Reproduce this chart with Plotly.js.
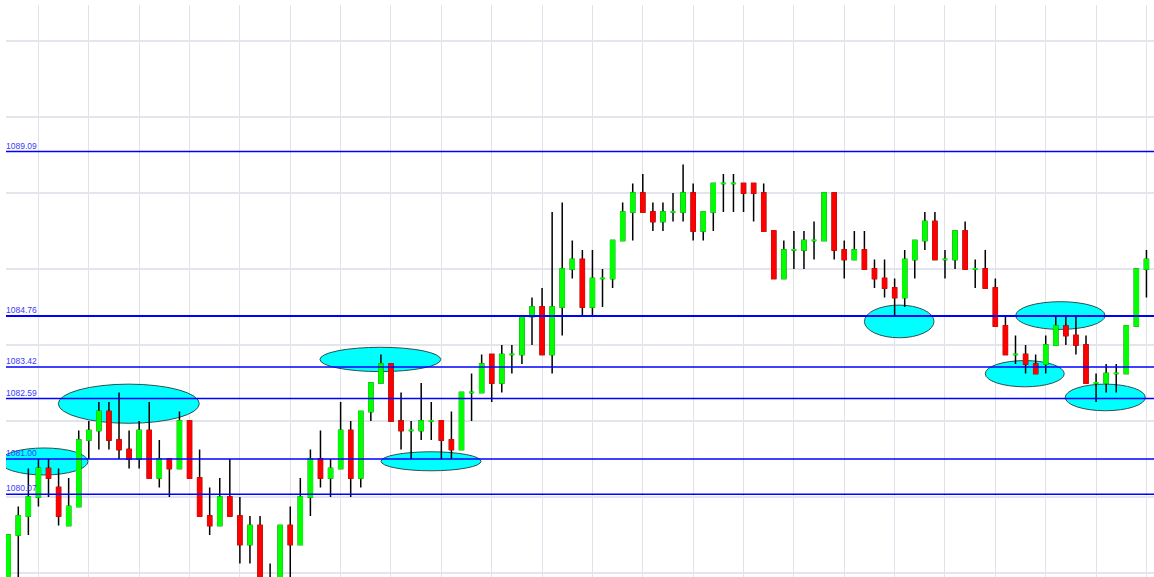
<!DOCTYPE html>
<html>
<head>
<meta charset="utf-8">
<script src="https://cdn.plot.ly/plotly-3.0.1.min.js"></script>
<style>
html, body { margin: 0; padding: 0; background: #ffffff; }
#chart { width: 1154px; height: 577px; }
</style>
</head>
<body>
<div id="chart"></div>
<script>
// ---- Data ----
var opens = [
  1077.5, 1079.0, 1079.5, 1080.0, 1080.75, 1080.25, 1079.25, 1079.75, 1081.5, 1081.75,
  1082.25, 1081.5, 1081.25, 1081.0, 1081.75, 1080.5, 1081.0, 1080.75, 1082.0, 1080.5,
  1079.5, 1079.25, 1080.0, 1079.5, 1078.75, 1079.25, 1077.75, 1077.5, 1079.25, 1078.75,
  1080.0, 1081.0, 1080.5, 1080.75, 1081.75, 1080.5, 1082.25, 1083.0, 1083.5, 1082.0,
  1081.75, 1081.75, 1082.0, 1082.0, 1081.5, 1081.25, 1082.75, 1082.75, 1083.75, 1083.0,
  1083.75, 1083.75, 1084.75, 1085.0, 1083.75, 1085.0, 1086.0, 1086.25, 1085.0, 1085.75,
  1085.75, 1086.75, 1087.5, 1088.0, 1087.5, 1087.25, 1087.5, 1087.5, 1088.0, 1087.0,
  1087.5, 1088.25, 1088.25, 1088.25, 1088.25, 1088.0, 1087.0, 1085.75, 1086.5, 1086.5,
  1086.75, 1086.75, 1088.0, 1086.5, 1086.25, 1086.5, 1086.0, 1085.75, 1085.5, 1085.25,
  1086.25, 1086.75, 1087.25, 1086.25, 1086.25, 1087.0, 1086.0, 1086.0, 1085.5, 1084.5,
  1083.75, 1083.75, 1083.5, 1083.5, 1084.0, 1084.5, 1084.25, 1084.0, 1083.0, 1083.0,
  1083.25, 1083.25, 1084.5, 1086.0, 1086.25
];
var highs = [
  1079.0, 1079.75, 1080.75, 1081.0, 1081.0, 1080.75, 1080.5, 1081.75, 1082.0, 1082.5,
  1082.5, 1082.75, 1081.75, 1082.0, 1082.5, 1081.5, 1081.0, 1082.25, 1082.0, 1081.25,
  1080.25, 1080.5, 1081.0, 1080.0, 1079.5, 1079.5, 1078.25, 1079.25, 1079.75, 1080.5,
  1081.25, 1081.75, 1081.0, 1082.5, 1082.0, 1082.25, 1083.0, 1083.75, 1083.5, 1082.75,
  1082.0, 1083.0, 1082.5, 1082.0, 1082.25, 1082.75, 1083.25, 1083.75, 1083.75, 1084.0,
  1084.0, 1084.75, 1085.25, 1085.5, 1087.5, 1087.75, 1086.75, 1086.5, 1086.5, 1086.0,
  1086.75, 1087.75, 1088.25, 1088.5, 1087.75, 1087.75, 1088.0, 1088.75, 1088.25, 1087.5,
  1088.25, 1088.5, 1088.5, 1088.25, 1088.25, 1088.25, 1087.0, 1086.75, 1087.0, 1087.0,
  1087.25, 1088.0, 1088.0, 1086.75, 1087.0, 1087.0, 1086.25, 1086.25, 1085.75, 1086.5,
  1086.75, 1087.5, 1087.5, 1086.5, 1087.0, 1087.25, 1086.25, 1086.5, 1085.75, 1084.75,
  1084.25, 1084.0, 1083.75, 1084.25, 1084.75, 1084.75, 1084.75, 1084.25, 1083.25, 1083.5,
  1083.5, 1084.5, 1086.0, 1086.5, 1086.5
];
var lows = [
  1077.25, 1077.75, 1079.0, 1079.75, 1080.0, 1079.25, 1079.25, 1079.75, 1081.0, 1081.25,
  1081.25, 1081.0, 1080.75, 1080.75, 1080.5, 1080.25, 1080.0, 1080.75, 1080.5, 1079.5,
  1079.0, 1079.25, 1079.5, 1078.25, 1078.25, 1077.5, 1077.25, 1077.25, 1077.75, 1078.75,
  1079.5, 1080.25, 1080.0, 1080.75, 1080.0, 1080.25, 1082.0, 1083.0, 1082.0, 1081.25,
  1081.0, 1081.5, 1081.5, 1081.0, 1081.0, 1081.25, 1082.0, 1082.75, 1082.5, 1082.75,
  1083.25, 1083.5, 1084.0, 1083.75, 1083.25, 1084.25, 1085.75, 1084.75, 1084.75, 1085.0,
  1085.5, 1086.75, 1086.75, 1087.5, 1087.0, 1087.0, 1087.25, 1087.25, 1086.75, 1086.75,
  1087.0, 1087.5, 1087.5, 1087.5, 1087.25, 1087.0, 1085.75, 1085.75, 1086.0, 1086.0,
  1086.25, 1086.75, 1086.25, 1085.75, 1086.25, 1086.0, 1085.5, 1085.25, 1084.75, 1085.0,
  1085.75, 1086.5, 1086.25, 1085.75, 1086.0, 1086.0, 1085.5, 1085.5, 1084.5, 1083.75,
  1083.5, 1083.25, 1083.25, 1083.25, 1084.0, 1084.0, 1083.75, 1083.0, 1082.5, 1082.75,
  1082.75, 1083.25, 1084.5, 1085.25, 1086.0
];
var closes = [
  1079.0, 1079.5, 1080.0, 1080.75, 1080.5, 1079.5, 1079.75, 1081.5, 1081.75, 1082.25,
  1081.5, 1081.25, 1081.0, 1081.75, 1080.5, 1081.0, 1080.75, 1082.0, 1080.5, 1079.5,
  1079.25, 1080.0, 1079.5, 1078.75, 1079.25, 1077.75, 1077.5, 1079.25, 1078.75, 1080.0,
  1081.0, 1080.5, 1080.75, 1081.75, 1080.5, 1082.25, 1083.0, 1083.5, 1082.0, 1081.75,
  1081.75, 1082.0, 1082.0, 1081.5, 1081.25, 1082.75, 1082.75, 1083.5, 1083.0, 1083.75,
  1083.75, 1084.75, 1085.0, 1083.75, 1085.0, 1086.0, 1086.25, 1085.0, 1085.75, 1085.75,
  1086.75, 1087.5, 1088.0, 1087.5, 1087.25, 1087.5, 1087.5, 1088.0, 1087.0, 1087.5,
  1088.25, 1088.25, 1088.25, 1088.0, 1088.0, 1087.0, 1085.75, 1086.5, 1086.5, 1086.75,
  1086.75, 1088.0, 1086.5, 1086.25, 1086.5, 1086.0, 1085.75, 1085.5, 1085.25, 1086.25,
  1086.75, 1087.25, 1086.25, 1086.25, 1087.0, 1086.0, 1086.0, 1085.5, 1084.5, 1083.75,
  1083.75, 1083.5, 1083.25, 1084.0, 1084.5, 1084.25, 1084.0, 1083.0, 1083.0, 1083.25,
  1083.25, 1084.5, 1086.0, 1086.25, 1086.25
];

// Horizontal support / resistance levels and their labels
var levels = [1089.09, 1084.76, 1083.42, 1082.59, 1081.00, 1080.07];
var levelLabels = ["1089.09", "1084.76", "1083.42", "1082.59", "1081.00", "1080.07"];

// Highlighted zones (ellipses): bar-index span and price span
var zoneStart = [-0.81, 4.97, 30.95, 37.01, 85.0, 100.02, 97.0, 104.94];
var zoneEnd   = [7.92, 18.97, 42.94, 46.94, 91.91, 108.89, 104.84, 112.89];
var zoneLow   = [1080.58, 1081.94, 1083.30, 1080.69, 1084.19, 1084.41, 1082.90, 1082.27];
var zoneHigh  = [1081.29, 1082.97, 1083.94, 1081.19, 1085.05, 1085.14, 1083.59, 1082.97];

// ---- Build traces ----
var idx = opens.map(function (_, i) { return i; });

// Wicks: black candlestick drawn first
var wicks = {
  type: 'candlestick',
  x: idx, open: opens, high: highs, low: lows, close: closes,
  increasing: { line: { color: '#000000', width: 1.5 }, fillcolor: '#000000' },
  decreasing: { line: { color: '#000000', width: 1.5 }, fillcolor: '#000000' },
  whiskerwidth: 0,
  hoverinfo: 'skip', showlegend: false
};

// Bodies: coloured boxes covering the body part of the wick trace
var bOpen = opens.slice();
var bClose = closes.map(function (c, i) { return c === opens[i] ? c + 0.004 : c; });
var bHigh = bOpen.map(function (o, i) { return Math.max(o, bClose[i]); });
var bLow = bOpen.map(function (o, i) { return Math.min(o, bClose[i]); });
var bodies = {
  type: 'candlestick',
  x: idx, open: bOpen, high: bHigh, low: bLow, close: bClose,
  increasing: { line: { color: '#00ff00', width: 1.5 }, fillcolor: '#00ff00' },
  decreasing: { line: { color: '#ff0000', width: 1.5 }, fillcolor: '#ff0000' },
  whiskerwidth: 0,
  hoverinfo: 'skip', showlegend: false
};

// ---- Shapes ----
var shapes = [];
for (var k = 0; k < zoneStart.length; k++) {
  shapes.push({
    type: 'circle', xref: 'x', yref: 'y', layer: 'between',
    x0: zoneStart[k], x1: zoneEnd[k], y0: zoneLow[k], y1: zoneHigh[k],
    fillcolor: '#00ffff', line: { color: '#2f4f4f', width: 1 }
  });
}
levels.forEach(function (lv, j) {
  shapes.push({
    type: 'line', xref: 'paper', yref: 'y', layer: 'above',
    x0: 0, x1: 1, y0: lv, y1: lv,
    line: { color: '#0000ff', width: j === 1 ? 2 : 1.5 }
  });
});

var annotations = levels.map(function (lv, j) {
  return {
    xref: 'paper', yref: 'y', x: 0, y: lv,
    xanchor: 'left', yanchor: 'bottom', xshift: -1, yshift: 0,
    text: levelLabels[j], showarrow: false, borderpad: 0,
    font: { family: 'Liberation Sans, Arial, sans-serif', size: 8.5, color: '#3a3aff' }
  };
});

var layout = {
  width: 1154, height: 577,
  margin: { l: 6, r: 0, t: 5, b: 0, pad: 0 },
  paper_bgcolor: '#ffffff', plot_bgcolor: '#ffffff',
  showlegend: false,
  boxmode: 'overlay', boxgap: 0.45,
  xaxis: {
    range: [-0.22, 113.75], tickmode: 'linear', tick0: 3, dtick: 5,
    showgrid: true, gridcolor: '#dfe2ea', gridwidth: 1,
    showticklabels: false, ticks: '', zeroline: false, showline: false,
    rangeslider: { visible: false }, fixedrange: true
  },
  yaxis: {
    range: [1077.895, 1092.947], tickmode: 'linear', tick0: 1078, dtick: 2,
    showgrid: true, gridcolor: '#e3e5ec', gridwidth: 1.5,
    showticklabels: false, ticks: '', zeroline: false, showline: false, fixedrange: true
  },
  shapes: shapes,
  annotations: annotations
};

Plotly.newPlot('chart', [wicks, bodies], layout, { staticPlot: true, displayModeBar: false });
</script>
</body>
</html>
